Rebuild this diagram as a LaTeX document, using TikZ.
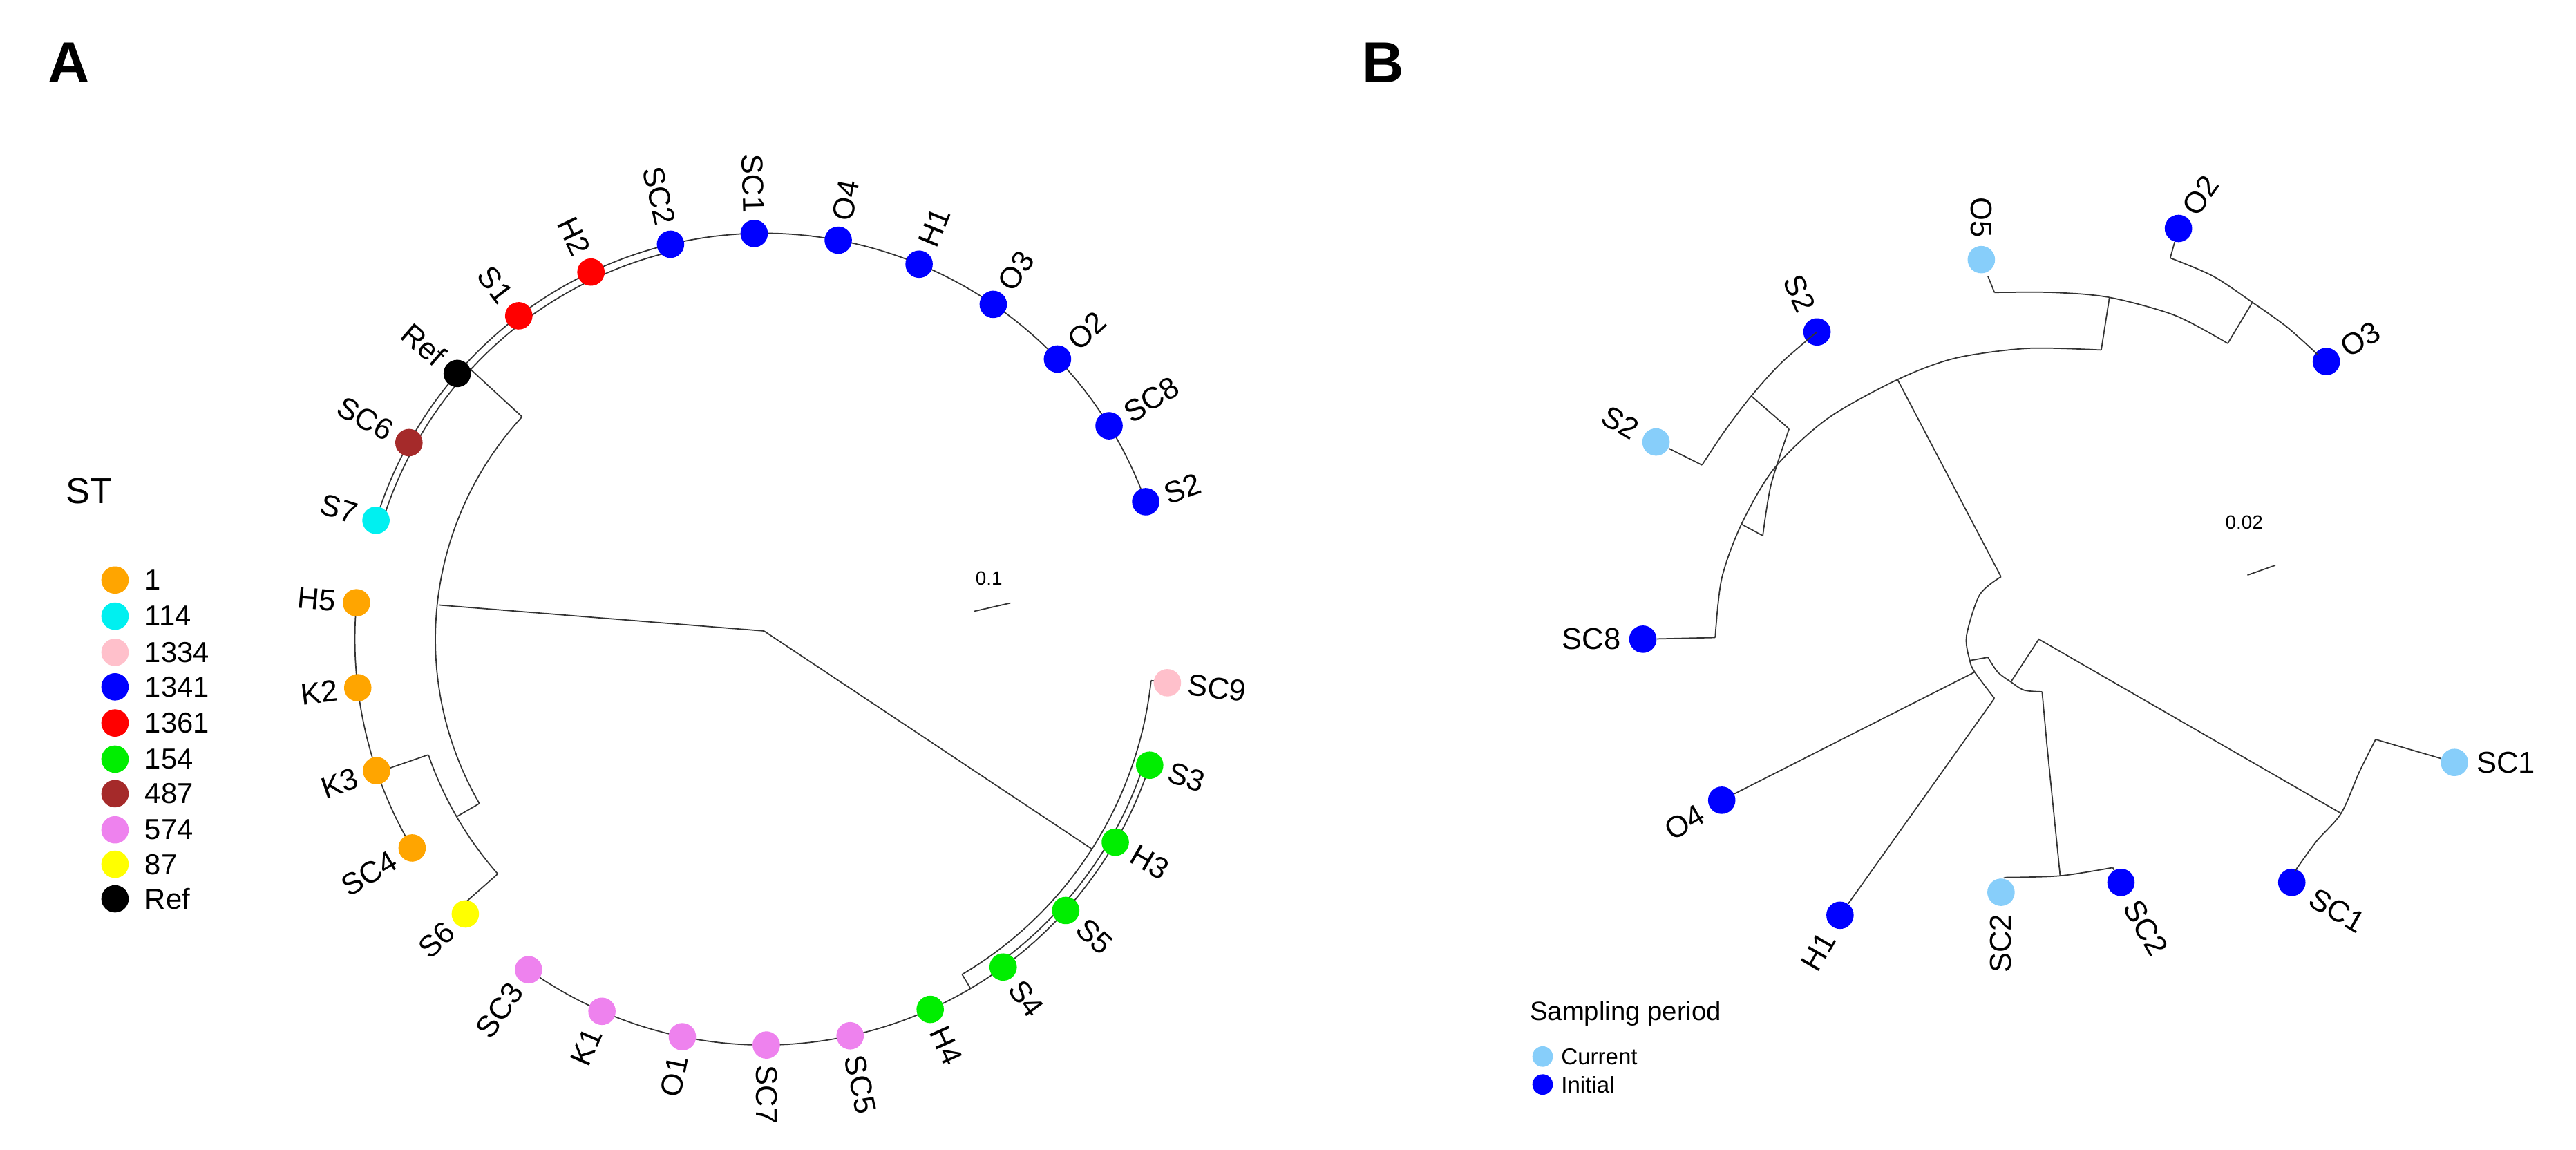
\documentclass[tikz,border=0pt]{standalone}
\usepackage{fontspec}
\setmainfont{Liberation Sans}
\begin{document}
\begin{tikzpicture}[x=0.024cm,y=0.024cm,
  br/.style={draw=black!80,line width=0.5pt},
  dot/.style={circle,inner sep=0pt,minimum size=0.4cm,draw=none},
  lab/.style={font=\fontsize{12.5}{14}\selectfont,inner sep=1.5pt},
  leg/.style={font=\fontsize{12}{14}\selectfont,anchor=west,inner sep=0pt}]
\definecolor{cOr}{HTML}{FFA500}\definecolor{cCy}{HTML}{00F0F0}
\definecolor{cPk}{HTML}{FFC0CB}\definecolor{cBl}{HTML}{0000FF}
\definecolor{cRd}{HTML}{FF0000}\definecolor{cGr}{HTML}{00EE00}
\definecolor{cBr}{HTML}{A52A2A}\definecolor{cVi}{HTML}{EE82EE}
\definecolor{cYe}{HTML}{FFFF00}\definecolor{cLb}{HTML}{87CEFA}
\useasboundingbox (0,0) rectangle (1568,-699.7);
\node[font=\bfseries\fontsize{24}{26}\selectfont] (lA) at (42,-38) {A};
\node[font=\bfseries\fontsize{24}{26}\selectfont] (lB) at (842,-38) {B};
% ---------- Panel A ----------
\begin{scope}[shift={(465,-389)}]
\coordinate (rootA) at (0,5);
\draw[br] (rootA) -- (174:199);
\draw[br] (rootA) -- (327.4:237);
\draw[br] (137.4:200) arc[start angle=137.4,end angle=210,radius=200];
\draw[br] (137.4:200) -- (137.4:242);
\draw[br] (19.8:247) arc[start angle=19.8,end angle=161.3,radius=247];
\draw[br] (102.2:247) -- (102.2:242.5) arc[start angle=102.2,end angle=137.4,radius=242.5];
\draw[br] (137.4:242.5) -- (137.4:243) arc[start angle=137.4,end angle=161.3,radius=243] -- (161.3:247);
\draw[br] (210:200) -- (210:216);
\draw[br] (199:216) arc[start angle=199,end angle=221.4,radius=216];
\draw[br] (221.4:216) -- (221.4:247);
\draw[br] (199:216) -- (199:247);
\draw[br] (173.1:249) arc[start angle=173.1,end angle=209.2,radius=249];
\draw[br] (300.6:237) arc[start angle=300.6,end angle=353.9,radius=237];
\draw[br] (300.6:237) -- (300.6:247);
\draw[br] (353.9:237) -- (353.9:247);
\draw[br] (233.6:247) arc[start angle=233.6,end angle=341.6,radius=247];
\draw[br] (305.8:247) -- (305.8:243.5) arc[start angle=305.8,end angle=341.6,radius=243.5];
\foreach \n/\c [count=\i from 0] in {S2/cBl,SC8/cBl,O2/cBl,O3/cBl,H1/cBl,O4/cBl,SC1/cBl,SC2/cBl,H2/cRd,S1/cRd,Ref/black,SC6/cBr,S7/cCy,H5/cOr,K2/cOr,K3/cOr,SC4/cOr,S6/cYe,SC3/cVi,K1/cVi,O1/cVi,SC7/cVi,SC5/cVi,H4/cGr,S4/cGr,S5/cGr,H3/cGr,S3/cGr,SC9/cPk}{
  \pgfmathsetmacro{\ang}{19.8+11.93*\i}
  \pgfmathsetmacro{\rr}{(\ang>170 && \ang<212) ? 249 : 247}
  \node[dot,fill=\c] (A\i) at (\ang:\rr) {};
  \pgfmathsetmacro{\flip}{(\ang>91 && \ang<270) ? 1 : 0}
  \ifdim\flip pt=1pt
    \pgfmathsetmacro{\rot}{\ang-180}
    \node[lab,anchor=east,rotate=\rot] (tA\i) at (\ang:\rr+10) {\n};
  \else
    \node[lab,anchor=west,rotate=\ang] (tA\i) at (\ang:\rr+10) {\n};
  \fi
}
\end{scope}
\node[font=\fontsize{8}{9}\selectfont] (sA) at (602,-352) {0.1};
\coordinate (sA1) at (593,-372); \coordinate (sA2) at (615,-367);
\draw[br] (sA1) -- (sA2);
\node[font=\fontsize{15}{17}\selectfont,anchor=west,inner sep=0pt] (stT) at (40,-299) {ST};
\foreach \t/\c/\y in {1/cOr/353,114/cCy/375,1334/cPk/397,1341/cBl/418,1361/cRd/440,154/cGr/462,487/cBr/483,574/cVi/505,87/cYe/526,Ref/black/547}{
  \node[dot,fill=\c] (L\t) at (70,-\y) {};
  \node[leg] (Lt\t) at (88,-\y) {\t};
}
% ---------- Panel B ----------
\coordinate (b1) at (1218,-351);
\coordinate (b2) at (1155,-231);
\draw[br] (b1) -- (b2);
\draw[br] plot[smooth] coordinates {(1218,-351) (1205,-362) (1197,-387) (1199,-402) (1202,-409) (1214,-425)};
\draw[br] plot[smooth] coordinates {(1279,-213) (1234,-212) (1190,-218) (1155,-231) (1112,-255) (1080,-285) (1060,-319) (1048,-352) (1044,-388)};
\coordinate (sc8n) at (1044,-388);
\node[dot,fill=cBl] (bSC8) at (1000,-389) {};
\draw[br] (sc8n) -- (bSC8);
\draw[br] (1060,-319) -- (1073,-326);
\draw[br] plot[smooth] coordinates {(1073,-326) (1078,-295) (1089,-261)};
\draw[br] (1089,-261) -- (1066,-241);
\node[dot,fill=cBl] (bS2a) at (1106,-202) {};
\node[dot,fill=cLb] (bS2b) at (1008,-269) {};
\draw[br] plot[smooth] coordinates {(1106,-202) (1084,-221) (1066,-241) (1050,-262) (1036,-283)};
\draw[br] (1036,-283) -- (bS2b);
% O clade
\draw[br] (1279,-213) -- (1284,-181);
\draw[br] plot[smooth] coordinates {(1214,-178) (1250,-178) (1284,-181) (1324,-192) (1356,-209)};
\node[dot,fill=cLb] (bO5) at (1206,-158) {};
\draw[br] (1214,-178) -- (1210,-168);
\draw[br] (1356,-209) -- (1371,-184);
\node[dot,fill=cBl] (bO2) at (1326,-139) {};
\node[dot,fill=cBl] (bO3) at (1416,-220) {};
\draw[br] (bO2) -- (1321,-157);
\draw[br] plot[smooth] coordinates {(1321,-157) (1347,-168) (1371,-184) (1392,-199) (1411,-216)};
% lower
\node[dot,fill=cBl] (bO4) at (1048,-487) {};
\node[dot,fill=cBl] (bH1) at (1120,-557) {};
\draw[br] (1202,-409) -- (bO4);
\draw[br] (1214,-425) -- (bH1);
\draw[br] (1199,-402) -- (1210,-400);
\draw[br] plot[smooth] coordinates {(1210,-400) (1216,-409) (1224,-415) (1232,-420) (1243,-421)};
\draw[br] (1243,-421) -- (1246,-454) -- (1254,-533);
\draw[br] (1224,-415) -- (1241,-389) -- (1425,-495);
\node[dot,fill=cLb] (bSC2a) at (1218,-543) {};
\node[dot,fill=cBl] (bSC2b) at (1291,-537) {};
\draw[br] (bSC2a) -- (1220,-534);
\draw[br] plot[smooth] coordinates {(1220,-534) (1254,-533) (1286,-528)};
\draw[br] (1286,-528) -- (bSC2b);
\node[dot,fill=cLb] (bSC1a) at (1494,-464) {};
\node[dot,fill=cBl] (bSC1b) at (1395,-537) {};
\draw[br] plot[smooth] coordinates {(1397,-530) (1410,-512) (1425,-495) (1436,-470) (1446,-450)};
\draw[br] (1446,-450) -- (bSC1a);
% B labels
\node[lab,anchor=east,rotate=-90] (tO5) at (1206,-147) {O5};
\node[lab,anchor=west,rotate=55] (tO2) at (1331,-131) {O2};
\node[lab,anchor=west,rotate=30] (tO3) at (1424,-214) {O3};
\node[lab,anchor=east,rotate=-65] (tS2a) at (1101,-191) {S2};
\node[lab,anchor=east,rotate=-30] (tS2b) at (998,-264) {S2};
\node[lab,anchor=east] (tSC8) at (989,-389) {SC8};
\node[lab,anchor=east,rotate=30] (tO4) at (1038,-493) {O4};
\node[lab,anchor=east,rotate=60] (tH1) at (1114,-567) {H1};
\node[lab,anchor=east,rotate=90] (tSC2a) at (1218,-554) {SC2};
\node[lab,anchor=west,rotate=-60] (tSC2b) at (1296,-547) {SC2};
\node[lab,anchor=west,rotate=-30] (tSC1b) at (1405,-544) {SC1};
\node[lab,anchor=west] (tSC1a) at (1505,-464) {SC1};
\node[font=\fontsize{8}{9}\selectfont] (sB) at (1366,-318) {0.02};
\coordinate (sB1) at (1368,-350); \coordinate (sB2) at (1385,-344);
\draw[br] (sB1) -- (sB2);
\node[font=\fontsize{11}{13}\selectfont,anchor=west,inner sep=0pt] (spT) at (931,-617) {Sampling period};
\node[dot,fill=cLb,minimum size=0.3cm] (Lcur) at (939,-643) {};
\node[leg,font=\fontsize{9.5}{11}\selectfont] (Ltc) at (950,-643) {Current};
\node[dot,fill=cBl,minimum size=0.3cm] (Lini) at (939,-660) {};
\node[leg,font=\fontsize{9.5}{11}\selectfont] (Lti) at (950,-660) {Initial};
\end{tikzpicture}
\end{document}
